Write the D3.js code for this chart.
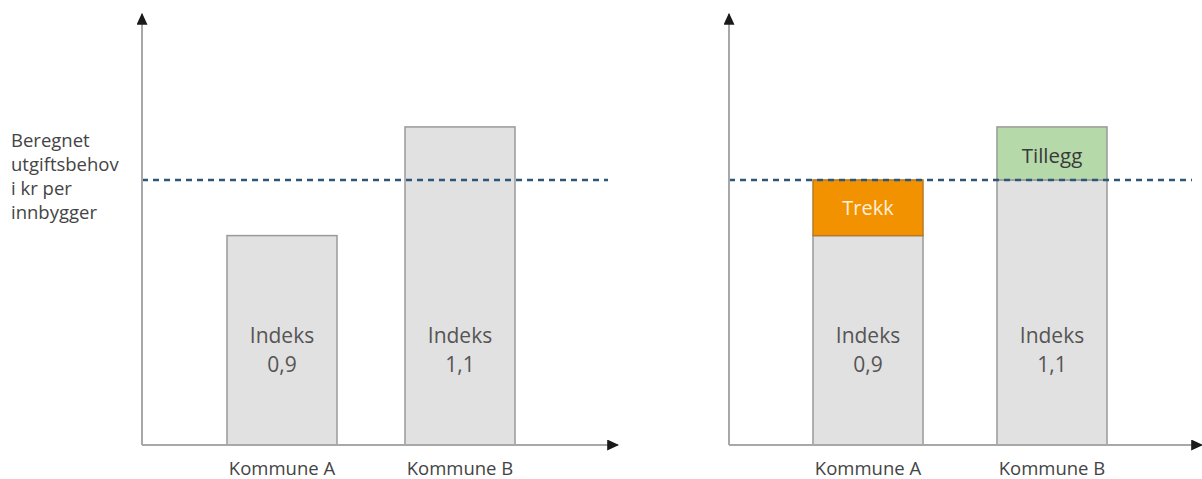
<!DOCTYPE html>
<html>
<head>
<meta charset="utf-8">
<script src="https://cdn.jsdelivr.net/npm/d3@7"></script>
<style>
  body { margin: 0; background: #fff; }
  text { font-family: "Open Sans", sans-serif; }
</style>
</head>
<body>
<svg id="chart" width="1202" height="479"></svg>
<script>
// data
const kommuner = ["Kommune A", "Kommune B"];
const indeks = [0.9, 1.1];
const indeksLabels = ["0,9", "1,1"];
// drawn bar heights relative to the reference level (1 = beregnet utgiftsbehov)
const barHoyde = [0.79, 1.2];
const referanse = 1.0;
const yLabel = ["Beregnet", "utgiftsbehov", "i kr per", "innbygger"];

const svg = d3.select("#chart");

// arrow marker
svg.append("defs").append("marker")
    .attr("id", "arrow")
    .attr("viewBox", "0 0 10 10")
    .attr("refX", 9).attr("refY", 5)
    .attr("markerWidth", 12).attr("markerHeight", 11)
    .attr("markerUnits", "userSpaceOnUse")
    .attr("orient", "auto")
    .attr("preserveAspectRatio", "none")
    .append("path")
    .attr("d", "M0,0 L10,5 L0,10 z")
    .attr("fill", "#1a1a1a");

const y = d3.scaleLinear().domain([0, 1.626]).range([445, 14]);

function panel(x0, x1, bandEnd, pInner, pOuter, adjusted) {
    const x = d3.scaleBand().domain(kommuner).range([x0, bandEnd])
        .paddingInner(pInner).paddingOuter(pOuter);
    const g = svg.append("g");

    // bars
    g.selectAll("rect.bar")
        .data(kommuner)
        .enter()
        .append("rect")
        .attr("class", "bar")
        .attr("x", d => x(d))
        .attr("width", x.bandwidth())
        .attr("y", (d, i) => y(adjusted ? Math.min(referanse, barHoyde[i]) : barHoyde[i]))
        .attr("height", (d, i) => y(0) - y(adjusted ? Math.min(referanse, barHoyde[i]) : barHoyde[i]))
        .attr("fill", "#e1e1e1")
        .attr("stroke", "#9a9a9a")
        .attr("stroke-width", 1.5);

    if (adjusted) {
        const a = kommuner[0], b = kommuner[1];
        // Trekk for A
        g.append("rect")
            .attr("x", x(a)).attr("width", x.bandwidth())
            .attr("y", y(referanse)).attr("height", y(barHoyde[0]) - y(referanse))
            .attr("fill", "#f39200").attr("stroke", "#b87a2a").attr("stroke-width", 1.5);
        g.append("text")
            .attr("x", x(a) + x.bandwidth() / 2)
            .attr("y", 215)
            .attr("text-anchor", "middle").attr("font-size", 20)
            .attr("fill", "#fdf0dc").text("Trekk");

        // Tillegg for B
        g.append("rect")
            .attr("x", x(b)).attr("width", x.bandwidth())
            .attr("y", y(barHoyde[1])).attr("height", y(referanse) - y(barHoyde[1]))
            .attr("fill", "#b6d9a9").attr("stroke", "#9a9a9a").attr("stroke-width", 1.5);
        g.append("text")
            .attr("x", x(b) + x.bandwidth() / 2)
            .attr("y", 163)
            .attr("text-anchor", "middle").attr("font-size", 20.5)
            .attr("fill", "#3a3a3a").text("Tillegg");
    }

    // index labels
    g.selectAll("text.idx")
        .data(kommuner)
        .enter()
        .append("text")
        .attr("class", "idx")
        .attr("x", d => x(d) + x.bandwidth() / 2)
        .attr("y", 343)
        .attr("text-anchor", "middle")
        .attr("font-size", 21)
        .attr("fill", "#555")
        .text("Indeks");
    g.selectAll("text.val")
        .data(indeksLabels)
        .enter()
        .append("text")
        .attr("class", "val")
        .attr("x", (d, i) => x(kommuner[i]) + x.bandwidth() / 2)
        .attr("y", 372)
        .attr("text-anchor", "middle")
        .attr("font-size", 21)
        .attr("fill", "#555")
        .text(d => d);

    // category labels
    g.selectAll("text.cat")
        .data(kommuner)
        .enter()
        .append("text")
        .attr("class", "cat")
        .attr("x", d => x(d) + x.bandwidth() / 2)
        .attr("y", 475)
        .attr("text-anchor", "middle")
        .attr("font-size", 18.5)
        .attr("fill", "#444")
        .text(d => d);

    // reference dashed line
    g.append("line")
        .attr("x1", x0).attr("x2", x1 - 10)
        .attr("y1", y(referanse)).attr("y2", y(referanse))
        .attr("stroke", "#2e5678").attr("stroke-width", 2.5)
        .attr("stroke-dasharray", "6,5");

    // axes with arrows
    g.append("line")
        .attr("x1", x0).attr("x2", x0)
        .attr("y1", y(0)).attr("y2", y.range()[1])
        .attr("stroke", "#a8a8a8").attr("stroke-width", 2)
        .attr("marker-end", "url(#arrow)");
    g.append("line")
        .attr("x1", x0).attr("x2", x1)
        .attr("y1", y(0)).attr("y2", y(0))
        .attr("stroke", "#a8a8a8").attr("stroke-width", 2)
        .attr("marker-end", "url(#arrow)");
}

panel(142, 618, 600, 0.382, 0.4775, false);
panel(729, 1202, 1191, 0.402, 0.4565, true);

// y label
svg.append("g").selectAll("text")
    .data(yLabel)
    .enter()
    .append("text")
    .attr("x", 11)
    .attr("y", (d, i) => 147 + i * 24)
    .attr("font-size", 18.5)
    .attr("fill", "#444")
    .text(d => d);
</script>
</body>
</html>
